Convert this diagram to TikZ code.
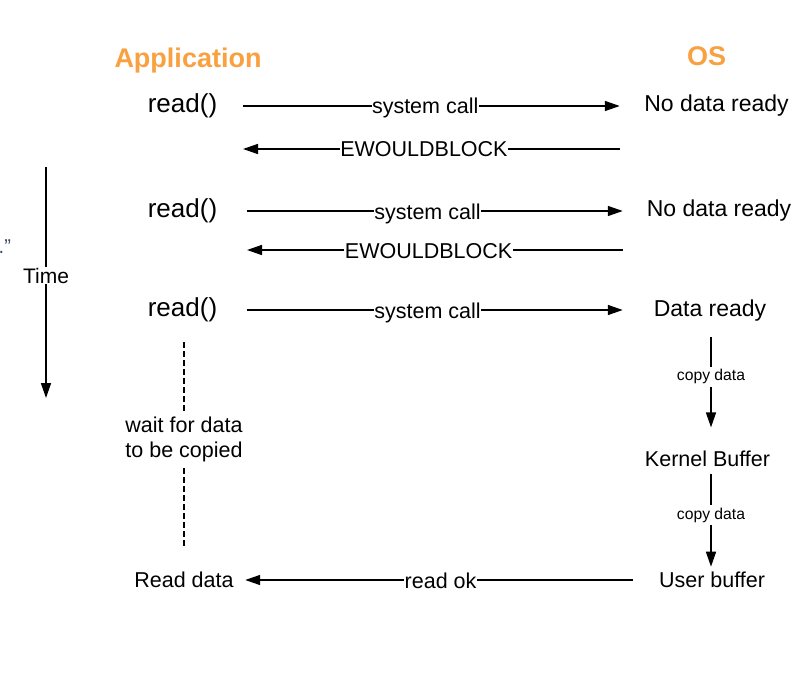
\documentclass[tikz,border=0pt]{standalone}
\usepackage{fontspec}
\setmainfont{Liberation Sans}
\usetikzlibrary{arrows.meta}
\definecolor{appor}{HTML}{F9A03F}
\definecolor{strayc}{HTML}{3C4B6B}
\tikzset{
  txt/.style={inner sep=0pt, font=\fontsize{21.5}{25}\selectfont},
  bigtxt/.style={inner sep=0pt, font=\fontsize{26}{30}\selectfont},
  sttxt/.style={inner sep=0pt, font=\fontsize{23}{27}\selectfont},
  hdr/.style={inner sep=0pt, text=appor, font=\fontsize{27}{32}\selectfont\bfseries},
  arr/.style={line width=1.5pt, -{Triangle[length=15pt,width=10pt]}},
  lbl/.style={fill=white, inner xsep=0.5pt, inner ysep=1pt, anchor=base, yshift=-8pt,
    font=\fontsize{21.5}{25}\selectfont, text height=15.7pt, text depth=4.5pt},
  cplbl/.style={fill=white, inner xsep=1pt, inner ysep=2.5pt, font=\fontsize{15.7}{18}\selectfont},
  timelbl/.style={fill=white, inner xsep=1pt, inner ysep=1pt, font=\fontsize{21}{25}\selectfont},
  waitlbl/.style={fill=white, inner xsep=2pt, inner ysep=4pt, align=center,
    font=\fontsize{21.5}{25}\selectfont},
  waitline/.style={line width=1.5pt, dash pattern=on 6pt off 3pt}
}
\begin{document}
\begin{tikzpicture}[x=1pt,y=-1pt]
\useasboundingbox (0,0) rectangle (811,682);
\fill[white] (0,0) rectangle (811,682);

% headers
\node[hdr, anchor=base] (app) at (188,68) {Application};
\node[hdr, anchor=base] (os) at (706.5,66) {OS};

% application side
\node[bigtxt] (r1) at (182.5,106) {read()};
\node[bigtxt] (r2) at (182.5,211) {read()};
\node[bigtxt] (r3) at (182.5,310) {read()};
\node[txt] (rd) at (184,579.5) {Read data};

% OS side
\node[sttxt] (n1) at (716.5,106) {No data ready};
\node[sttxt] (n2) at (719,211) {No data ready};
\node[sttxt] (dr) at (710,311) {Data ready};
\node[txt] (kb) at (707.5,459) {Kernel Buffer};
\node[txt] (ub) at (712,580) {User buffer};

% free ends
\coordinate (e1a) at (620,149);
\coordinate (e1b) at (243,149);
\coordinate (e2a) at (623,250);
\coordinate (e2b) at (247,250);
\coordinate (t0) at (46,167);
\coordinate (t1) at (46,398);

% stray text fragment
\node[anchor=base west, inner sep=0pt, text=strayc, font=\fontsize{20}{24}\selectfont] (stray) at (-1.5,253) {.”};

% time arrow
\draw[arr] (t0) -- node[timelbl, pos=0.47] (tl) {Time} (t1);

% row 1
\draw[arr, shorten <=25.8pt, shorten >=24.3pt] (r1.east) -- node[lbl, pos=0.487] {system call} (r1.east -| n1.west);
\draw[arr] (e1a) -- node[lbl, pos=0.52] {EWOULDBLOCK} (e1b);

% row 2
\draw[arr, shorten <=29.8pt, shorten >=23.8pt] (r2.east) -- node[lbl, pos=0.4895] {system call} (r2.east -| n2.west);
\draw[arr] (e2a) -- node[lbl, pos=0.517] {EWOULDBLOCK} (e2b);

% row 3
\draw[arr, shorten <=29.8pt, shorten >=30.8pt] (r3.east) -- node[lbl, pos=0.4817] {system call} (r3.east -| dr.west);

% copy data arrows
\draw[arr, shorten <=15.3pt, shorten >=23.5pt] ([xshift=1pt]dr.south) -- node[cplbl, pos=0.426] {copy data} ([xshift=1pt]dr.south |- kb.north);
\draw[arr, shorten <=7.3pt, shorten >=5.2pt] ([xshift=3.5pt]kb.south) -- node[cplbl, pos=0.458] {copy data} ([xshift=3.5pt]kb.south |- ub.north);

% read ok
\draw[arr, shorten <=25.9pt, shorten >=11.4pt] (ub.west) -- node[lbl, pos=0.5135] {read ok} (ub.west -| rd.east);

% wait dashed line
\draw[waitline, shorten <=19.8pt, shorten >=24.7pt] (rd.north |- r3.south) -- node[waitlbl, pos=0.47] {wait for data\\to be copied} (rd.north);
\end{tikzpicture}
\end{document}
